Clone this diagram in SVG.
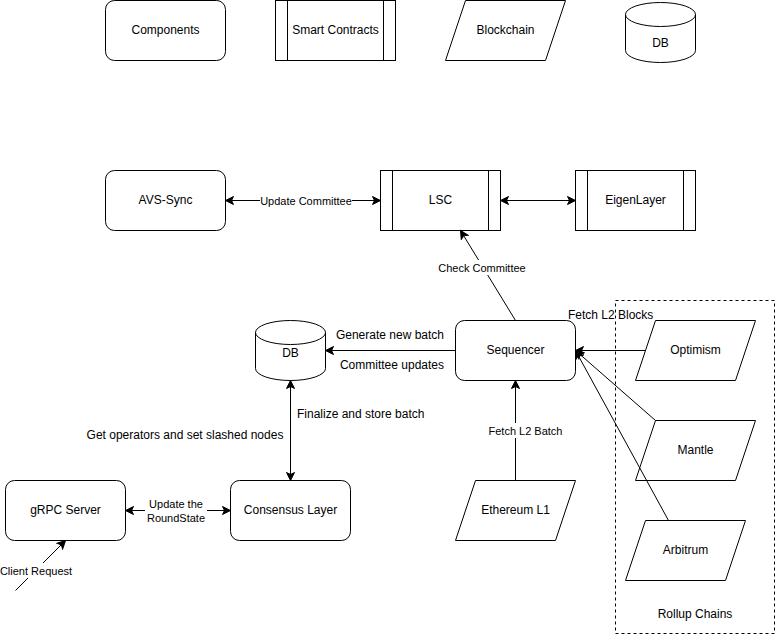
<svg xmlns="http://www.w3.org/2000/svg" width="777" height="636" viewBox="0 0 777 636">
<style>
.n{fill:#fff;stroke:#000;stroke-width:1}
.l{fill:none;stroke:#000;stroke-width:1}
.t{font-family:"Liberation Sans",Arial,Helvetica,sans-serif;font-size:12px;fill:#000;text-anchor:middle;dominant-baseline:central}
.s{font-size:11px}
.bg{fill:#fff;stroke:none}
.e{stroke:#000;stroke-width:1;fill:none;marker-end:url(#arr)}
.b{marker-start:url(#arr)}
</style>
<defs>
<marker id="arr" markerUnits="userSpaceOnUse" markerWidth="10" markerHeight="10" viewBox="0 0 10 10" refX="9" refY="5" orient="auto-start-reverse">
<path d="M1,1 L9,5 L1,9 L3,5 Z" fill="#000" stroke="#000" stroke-width="1"/>
</marker>
</defs>
<rect width="777" height="636" fill="#fff"/>

<g id="legend-components">
<rect class="n" x="105.5" y="0.5" width="120" height="60" rx="9"/>
<text class="t" x="165.5" y="30">Components</text>
</g>
<g id="legend-smart-contracts">
<rect class="n" x="275.5" y="0.5" width="120" height="60"/>
<path class="l" d="M287.5,0.5 V60.5 M383.5,0.5 V60.5"/>
<text class="t" x="335.5" y="30">Smart Contracts</text>
</g>
<g id="legend-blockchain">
<path class="n" d="M465.5,0.5 H565.5 L545.5,60.5 H445.5 Z"/>
<text class="t" x="505.5" y="30">Blockchain</text>
</g>
<g id="legend-db">
<path class="n" d="M625.5,14.5 A35,12 0 0 1 695.5,14.5 V50.5 A35,12 0 0 1 625.5,50.5 Z"/>
<path class="l" d="M625.5,14.5 A35,12 0 0 0 695.5,14.5"/>
<text class="t" x="660.5" y="43">DB</text>
</g>

<g id="avs-sync">
<rect class="n" x="105.5" y="170.5" width="120" height="60" rx="9"/>
<text class="t" x="165.5" y="200">AVS-Sync</text>
</g>
<g id="lsc">
<rect class="n" x="380.5" y="170.5" width="120" height="60"/>
<path class="l" d="M392.5,170.5 V230.5 M488.5,170.5 V230.5"/>
<text class="t" x="440.5" y="200">LSC</text>
</g>
<g id="eigenlayer">
<rect class="n" x="575.5" y="170.5" width="120" height="60"/>
<path class="l" d="M587.5,170.5 V230.5 M683.5,170.5 V230.5"/>
<text class="t" x="635.5" y="200">EigenLayer</text>
</g>
<g id="db">
<path class="n" d="M255.5,332.5 A35,12 0 0 1 325.5,332.5 V368.5 A35,12 0 0 1 255.5,368.5 Z"/>
<path class="l" d="M255.5,332.5 A35,12 0 0 0 325.5,332.5"/>
<text class="t" x="290.5" y="353">DB</text>
</g>
<g id="sequencer">
<rect class="n" x="455.5" y="320.5" width="120" height="60" rx="9"/>
<text class="t" x="515.5" y="350">Sequencer</text>
</g>
<g id="rollup-chains">
<rect x="615.5" y="300.5" width="159" height="333" fill="none" stroke="#000" stroke-width="1" stroke-dasharray="3 3"/>
<text class="t" x="695" y="614">Rollup Chains</text>
</g>
<g id="optimism">
<path class="n" d="M655.5,320.5 H755.5 L735.5,380.5 H635.5 Z"/>
<text class="t" x="695.5" y="350">Optimism</text>
</g>
<g id="mantle">
<path class="n" d="M655.5,420.5 H755.5 L735.5,480.5 H635.5 Z"/>
<text class="t" x="695.5" y="450">Mantle</text>
</g>
<g id="arbitrum">
<path class="n" d="M645.5,520.5 H745.5 L725.5,580.5 H625.5 Z"/>
<text class="t" x="685.5" y="550">Arbitrum</text>
</g>
<g id="ethereum-l1">
<path class="n" d="M475.5,480.5 H575.5 L555.5,540.5 H455.5 Z"/>
<text class="t" x="515.5" y="510">Ethereum L1</text>
</g>
<g id="grpc-server">
<rect class="n" x="5.5" y="480.5" width="120" height="60" rx="9"/>
<text class="t" x="65.5" y="510">gRPC Server</text>
</g>
<g id="consensus-layer">
<rect class="n" x="230.5" y="480.5" width="120" height="60" rx="9"/>
<text class="t" x="290.5" y="510">Consensus Layer</text>
</g>

<g id="connectors">
<line class="e b" x1="225.5" y1="200.5" x2="380.5" y2="200.5"/>
<rect class="bg" x="260" y="193" width="92" height="15"/>
<text class="t s" x="306" y="200.5">Update Committee</text>

<line class="e b" x1="500.5" y1="200.5" x2="575.5" y2="200.5"/>

<line class="e" x1="515.5" y1="320.5" x2="460.5" y2="230.5"/>
<rect class="bg" x="437" y="260" width="90" height="15"/>
<text class="t s" x="482" y="267.5">Check Committee</text>

<line class="e" x1="455.5" y1="350.5" x2="325.5" y2="350.5"/>
<text class="t" x="444" y="335" style="text-anchor:end">Generate new batch</text>
<text class="t" x="444" y="365" style="text-anchor:end">Committee updates</text>

<line class="e" x1="645.5" y1="350.5" x2="575.5" y2="350.5"/>
<line class="e" x1="655.5" y1="420.5" x2="575.5" y2="350.5"/>
<line class="e" x1="668.5" y1="520.5" x2="575.5" y2="350.5"/>
<text class="t" x="568" y="315" style="text-anchor:start">Fetch L2 Blocks</text>

<line class="e" x1="515.5" y1="480.5" x2="515.5" y2="380.5"/>
<rect class="bg" x="488" y="423" width="75" height="15"/>
<text class="t s" x="525.5" y="430.5">Fetch L2 Batch</text>

<line class="e b" x1="290.5" y1="380.5" x2="290.5" y2="480.5"/>
<text class="t" x="297" y="414" style="text-anchor:start">Finalize and store batch</text>
<text class="t" x="185" y="434.5">Get operators and set slashed nodes</text>

<line class="e b" x1="125.5" y1="510.5" x2="230.5" y2="510.5"/>
<rect class="bg" x="145" y="497" width="62" height="28"/>
<text class="t s" x="176" y="504">Update the</text>
<text class="t s" x="176" y="518">RoundState</text>

<line class="e" x1="15.5" y1="590.5" x2="65.5" y2="540.5"/>
<rect class="bg" x="0" y="563" width="73" height="15"/>
<text class="t s" x="36" y="570.5">Client Request</text>
</g>
</svg>
